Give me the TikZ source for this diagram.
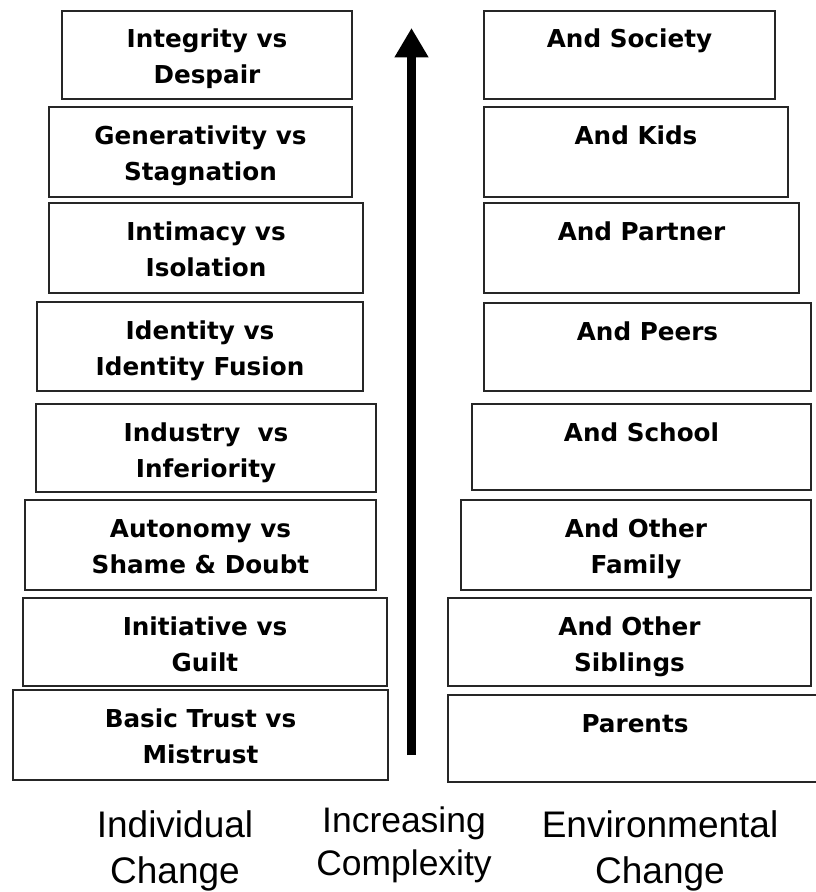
\documentclass[tikz,border=0pt]{standalone}
\usepackage{fontspec}
\setmainfont{Liberation Sans}
\newfontfamily\boxfont{DejaVu Sans}
\usetikzlibrary{arrows.meta,calc}
\tikzset{
  stagebox/.style={draw=black!85, line width=1.5pt, fill=white, inner sep=0pt, outer sep=0pt, rectangle},
  boxlbl/.style={inner sep=0pt, outer sep=0pt, align=center, anchor=north,
    font=\boxfont\bfseries\fontsize{18.5pt}{27pt}\selectfont},
  footlbl/.style={inner sep=0pt, outer sep=0pt, align=center, anchor=north,
    font=\fontsize{27.75pt}{34.5pt}\selectfont},
  midlbl/.style={inner sep=0pt, outer sep=0pt, align=center, anchor=north,
    font=\fontsize{26.6pt}{32.25pt}\selectfont},
  bigarrow/.style={line width=6.75pt, -{Triangle[width=24pt,length=22pt]}}
}
\newcommand\stagebx[6]{%
  \node[stagebox, minimum width={(#4-#2)*0.75pt}, minimum height={(#5-#3)*0.75pt}]
    (#1) at ({(#2+#4)/2},{(#3+#5)/2}) {};
  \node[boxlbl] (#1t) at ([yshift=-8.85pt]#1.north) {\strut #6};
}
\begin{document}
\begin{tikzpicture}[x=0.75pt, y=-0.75pt]
\useasboundingbox (0,0) rectangle (815,892);
\fill[white] (0,0) rectangle (815,892);
% left column
\stagebx{L1}{62}{11}{352}{99}{Integrity vs\\Despair}
\stagebx{L2}{49}{107}{352}{197}{Generativity vs\\Stagnation}
\stagebx{L3}{49}{203}{363}{293}{Intimacy vs\\Isolation}
\stagebx{L4}{37}{302}{363}{391}{Identity vs\\Identity Fusion}
\stagebx{L5}{36}{404}{376}{492}{Industry\ \ vs\\Inferiority}
\stagebx{L6}{25}{500}{376}{590}{Autonomy vs\\Shame \& Doubt}
\stagebx{L7}{23}{598}{387}{686}{Initiative vs\\Guilt}
\stagebx{L8}{13}{690}{388}{780}{Basic Trust vs\\Mistrust}
% right column
\stagebx{R1}{484}{11}{775}{99}{And Society}
\stagebx{R2}{484}{107}{788}{197}{And Kids}
\stagebx{R3}{484}{203}{799}{293}{And Partner}
\stagebx{R4}{484}{303}{811}{391}{And Peers}
\stagebx{R5}{472}{404}{811}{490}{And School}
\stagebx{R6}{461}{500}{811}{590}{And Other\\Family}
\stagebx{R7}{448}{598}{811}{686}{And Other\\Siblings}
\stagebx{R8}{448}{695}{822}{782}{Parents}
% arrow
\coordinate (abot) at (411.5,755);
\coordinate (atop) at (411.5,28);
\draw[bigarrow] (abot) -- (atop);
% bottom labels
\node[footlbl] (indiv) at (175,804.8) {\strut Individual\\Change};
\node[midlbl] (compl) at (404,801.9) {\strut Increasing\\Complexity};
\node[footlbl] (envir) at (660,804.8) {\strut Environmental\\Change};
\end{tikzpicture}
\end{document}
